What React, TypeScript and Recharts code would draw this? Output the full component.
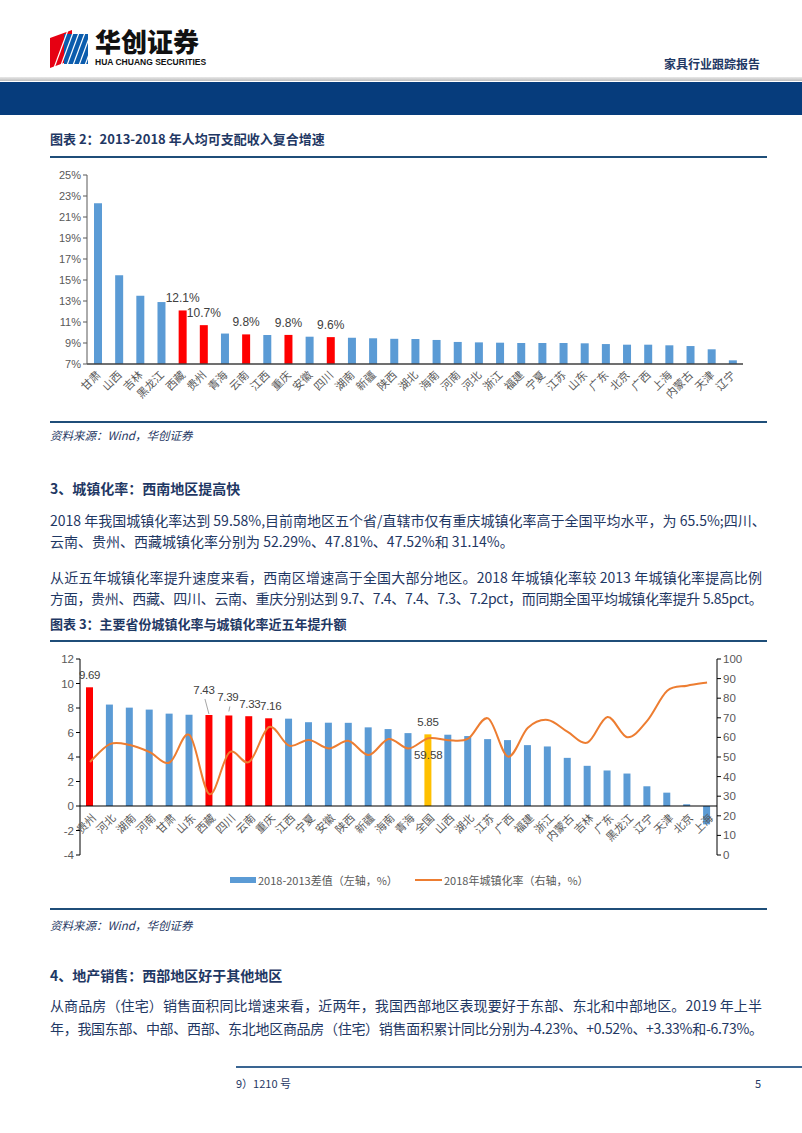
import React from "react"
import { BarChart, Bar, XAxis, YAxis, Cell, LabelList, ComposedChart, Line, ReferenceLine } from "recharts"

// 图表2：2013-2018 年人均可支配收入复合增速 (%)
const incomeProvinces = ["甘肃", "山西", "吉林", "黑龙江", "西藏", "贵州", "青海", "云南", "江西", "重庆", "安徽", "四川", "湖南", "新疆", "陕西", "湖北", "海南", "河南", "河北", "浙江", "福建", "宁夏", "江苏", "山东", "广东", "北京", "广西", "上海", "内蒙古", "天津", "辽宁"]
const incomeGrowth = [22.3, 15.45, 13.5, 12.9, 12.1, 10.7, 9.9, 9.82, 9.76, 9.77, 9.6, 9.56, 9.5, 9.45, 9.4, 9.38, 9.29, 9.1, 9.06, 9.03, 9.0, 9.0, 9.0, 8.97, 8.9, 8.84, 8.84, 8.78, 8.71, 8.4, 7.35]
const incomeHighlight = ["西藏", "贵州", "云南", "重庆", "四川"]
const incomeTicks = [7, 9, 11, 13, 15, 17, 19, 21, 23, 25]

// 图表3：城镇化率提升额（左轴）与 2018 年城镇化率（右轴）
const urbanProvinces = ["贵州", "河北", "湖南", "河南", "甘肃", "山东", "西藏", "四川", "云南", "重庆", "江西", "宁夏", "安徽", "陕西", "新疆", "海南", "青海", "全国", "山西", "湖北", "江苏", "广西", "福建", "浙江", "内蒙古", "吉林", "广东", "黑龙江", "辽宁", "天津", "北京", "上海"]
const urbanDiff = [9.69, 8.28, 8.03, 7.87, 7.54, 7.45, 7.43, 7.39, 7.33, 7.16, 7.13, 6.84, 6.8, 6.79, 6.42, 6.28, 5.95, 5.85, 5.82, 5.71, 5.46, 5.38, 4.97, 4.86, 3.93, 3.28, 2.9, 2.65, 1.61, 1.09, 0.14, -1.5]
const urbanRate = [47.5, 56.6, 56.1, 52.5, 47.2, 61.2, 31.1, 52.3, 47.5, 65.3, 55.8, 58.7, 54.4, 58.2, 51.0, 59.2, 54.4, 59.58, 58.6, 59.4, 69.7, 50.2, 64.9, 68.9, 62.8, 57.4, 70.4, 60.1, 68.6, 83.8, 86.4, 88.0]
const urbanHighlight = ["贵州", "西藏", "四川", "云南", "重庆"]
const urbanNation = "全国"
const leftTicks = [-4, -2, 0, 2, 4, 6, 8, 10, 12]
const rightTicks = [0, 10, 20, 30, 40, 50, 60, 70, 80, 90, 100]

const incomeData = incomeProvinces.map((name, i) => ({ name, value: incomeGrowth[i] }))
const urbanData = urbanProvinces.map((name, i) => ({ name, diff: urbanDiff[i], rate: urbanRate[i] }))

const NAVY = "#1f3864"
const BLUE = "#5b9bd5"
const RED = "#ff0000"
const GOLD = "#ffc000"
const ORANGE = "#ed7d31"
const GRAY = "#595959"
const NUM_FONT = "'Liberation Sans', Arial, sans-serif"
const CJK_FONT = "'Noto Sans CJK SC', sans-serif"

// Excel-like smoothed line (Catmull-Rom through points)
const smoothCurve = (context: any) => {
  let pts: number[][] = []
  return {
    areaStart() {},
    areaEnd() {},
    lineStart() {
      pts = []
    },
    point(x: number, y: number) {
      pts.push([+x, +y])
    },
    lineEnd() {
      if (!pts.length) return
      context.moveTo(pts[0][0], pts[0][1])
      for (let i = 0; i < pts.length - 1; i++) {
        const p0 = pts[i - 1] || pts[i]
        const p1 = pts[i]
        const p2 = pts[i + 1]
        const p3 = pts[i + 2] || p2
        const t = 1 / 6
        context.bezierCurveTo(
          p1[0] + (p2[0] - p0[0]) * t,
          p1[1] + (p2[1] - p0[1]) * t,
          p2[0] - (p3[0] - p1[0]) * t,
          p2[1] - (p3[1] - p1[1]) * t,
          p2[0],
          p2[1]
        )
      }
    },
  }
}

const box = (props: any) => {
  const vb = props.viewBox || {}
  return {
    x: props.x ?? vb.x,
    y: props.y ?? vb.y,
    width: props.width ?? vb.width ?? 0,
    height: props.height ?? vb.height ?? 0,
  }
}

const IncomeTick = ({ x, y, payload }: any) => (
  <g transform={`translate(${x + 1},${y + 7})`}>
    <text textAnchor="end" transform="rotate(-45)" dy="0.35em" fontSize={11} fill={GRAY} fontFamily={CJK_FONT}>
      {payload.value}
    </text>
  </g>
)

const IncomeLabel = (props: any) => {
  const { x, y, width } = box(props)
  const name = incomeProvinces[props.index]
  if (!incomeHighlight.includes(name)) return null
  return (
    <text x={x + width / 2} y={y - 8} textAnchor="middle" fontSize={12} fill="#404040" fontFamily={NUM_FONT}>
      {`${Number(props.value).toFixed(1)}%`}
    </text>
  )
}

// zero line sits 4/16 of plot height above the bottom
const URBAN_PLOT_H = 196
const ZERO_OFFSET = (URBAN_PLOT_H * 4) / 16

const UrbanTick = ({ x, y, payload }: any) => (
  <g transform={`translate(${x + 4},${y - ZERO_OFFSET + 8})`}>
    <text textAnchor="end" transform="rotate(-45)" dy="0.35em" fontSize={11} fill={GRAY} fontFamily={CJK_FONT}>
      {payload.value}
    </text>
  </g>
)

// small horizontal nudges so the crowded labels sit side by side
const urbanLabelShift: Record<string, number> = { 西藏: -5, 四川: -1, 云南: 1, 重庆: 2 }

const UrbanBarLabel = (props: any) => {
  const { x, y, width } = box(props)
  const name = urbanProvinces[props.index]
  if (!urbanHighlight.includes(name) && name !== urbanNation) return null
  const cx = x + width / 2
  const tx = cx + (urbanLabelShift[name] || 0)
  const txt = Number(props.value).toFixed(2)
  const textProps = { textAnchor: "middle" as const, fontSize: 11.5, letterSpacing: -0.3, fill: "#404040", fontFamily: NUM_FONT }
  if (name === "西藏") {
    return (
      <g>
        <line x1={cx - 4} y1={y - 16} x2={cx} y2={y - 1} stroke="#a6a6a6" strokeWidth={1} />
        <text x={tx} y={y - 21} {...textProps}>
          {txt}
        </text>
      </g>
    )
  }
  if (name === "四川") {
    return (
      <g>
        <line x1={cx + 1} y1={y - 9} x2={cx} y2={y - 4} stroke="#a6a6a6" strokeWidth={1} />
        <text x={tx} y={y - 14} {...textProps}>
          {txt}
        </text>
      </g>
    )
  }
  return (
    <text x={tx} y={y - 8} {...textProps}>
      {txt}
    </text>
  )
}

const UrbanLineLabel = (props: any) => {
  const { x, y } = box(props)
  if (urbanProvinces[props.index] !== urbanNation) return null
  return (
    <text x={x} y={y + 21} textAnchor="middle" fontSize={11.5} fill="#404040" fontFamily={NUM_FONT}>
      {Number(props.value).toFixed(2)}
    </text>
  )
}

const Txt = ({ y, x = 50, size = 14, bold = false, italic = false, color = NAVY, width, spacing = 0, children }: any) => (
  <div
    style={{
      position: "absolute",
      left: x,
      top: y - 10,
      height: 20,
      lineHeight: "20px",
      fontSize: size,
      fontWeight: bold ? 700 : 400,
      fontStyle: italic ? "italic" : "normal",
      color,
      fontFamily: CJK_FONT,
      whiteSpace: "nowrap",
      letterSpacing: spacing,
      width,
      textAlign: width ? "justify" : "left",
      textAlignLast: width ? "justify" : "auto",
    } as any}
  >
    {children}
  </div>
)

const Rule = ({ y, x1 = 50, x2 = 767, h = 2, color = "#1f4e79" }: any) => (
  <div style={{ position: "absolute", left: x1, top: y - h / 2, width: x2 - x1, height: h, background: color }} />
)

export default function App() {
  return (
    <div style={{ position: "relative", width: 802, height: 1133, background: "#fff", overflow: "hidden" }}>
      <style>{`body{margin:0}`}</style>

      {/* header */}
      <svg style={{ position: "absolute", left: 50, top: 30 }} width={40} height={38}>
        <polygon points="0,8 22,0 22,30 0,38" fill="#e60012" />
        <polygon points="14,4 38,4 38,34 14,34" fill="#0b5cad" />
        {[0, 1, 2, 3, 4, 5].map((i) => (
          <line key={i} x1={4 + i * 6} y1={38} x2={18 + i * 6} y2={0} stroke="#fff" strokeWidth={1.2} />
        ))}
      </svg>
      <div style={{ position: "absolute", left: 95, top: 26, fontSize: 26, fontWeight: 900, fontFamily: CJK_FONT, color: "#111", lineHeight: "30px" }}>
        华创证券
      </div>
      <div style={{ position: "absolute", left: 95, top: 57, fontSize: 8.5, fontWeight: 700, fontFamily: NUM_FONT, color: "#111", lineHeight: "10px" }}>
        HUA CHUANG SECURITIES
      </div>
      <Txt y={64} x={664} size={12} bold>家具行业跟踪报告</Txt>
      <div style={{ position: "absolute", left: 0, top: 77, width: 802, height: 4, background: "linear-gradient(#e8e8e8,#bdbdbd)" }} />
      <div style={{ position: "absolute", left: 0, top: 82, width: 802, height: 33, background: "#063c7c" }} />

      {/* chart 2 */}
      <Txt y={139} size={13} bold>图表 2：2013-2018 年人均可支配收入复合增速</Txt>
      <Rule y={157} />
      <div style={{ position: "absolute", left: 40, top: 160 }}>
        <BarChart width={720} height={250} data={incomeData} margin={{ top: 15, right: 17, left: 0, bottom: 0 }}>
          <XAxis
            dataKey="name"
            interval={0}
            height={46}
            tickSize={0}
            tickLine={false}
            axisLine={{ stroke: "#404040", strokeWidth: 1.5 }}
            tick={<IncomeTick />}
          />
          <YAxis
            width={47}
            domain={[7, 25]}
            ticks={incomeTicks}
            tickFormatter={(v) => `${v}%`}
            tickSize={4}
            axisLine={{ stroke: GRAY }}
            tickLine={{ stroke: GRAY }}
            tick={{ fontSize: 11, fill: GRAY, fontFamily: NUM_FONT }}
          />
          <Bar dataKey="value" barSize={8} isAnimationActive={false}>
            {incomeData.map((d) => (
              <Cell key={d.name} fill={incomeHighlight.includes(d.name) ? RED : BLUE} />
            ))}
            <LabelList dataKey="value" content={<IncomeLabel />} />
          </Bar>
        </BarChart>
      </div>
      <Rule y={422} />
      <Txt y={435} size={11.5} italic>资料来源：Wind，华创证券</Txt>

      {/* section 3 text */}
      <Txt y={488} size={14} bold>3、城镇化率：西南地区提高快</Txt>
      <Txt y={520} width={712}>2018 年我国城镇化率达到 59.58%,目前南地区五个省/直辖市仅有重庆城镇化率高于全国平均水平，为 65.5%;四川、</Txt>
      <Txt y={541}>云南、贵州、西藏城镇化率分别为 52.29%、47.81%、47.52%和 31.14%。</Txt>
      <Txt y={577} width={712}>从近五年城镇化率提升速度来看，西南区增速高于全国大部分地区。2018 年城镇化率较 2013 年城镇化率提高比例</Txt>
      <Txt y={598} width={710} spacing={-0.3}>方面，贵州、西藏、四川、云南、重庆分别达到 9.7、7.4、7.4、7.3、7.2pct，而同期全国平均城镇化率提升 5.85pct。</Txt>

      {/* chart 3 */}
      <Txt y={624} size={13} bold>图表 3：主要省份城镇化率与城镇化率近五年提升额</Txt>
      <Rule y={641} />
      <div style={{ position: "absolute", left: 40, top: 645 }}>
        <ComposedChart width={720} height={222} data={urbanData} margin={{ top: 14, right: 0, left: 0, bottom: 0 }}>
          <XAxis
            dataKey="name"
            interval={0}
            height={12}
            tickSize={0}
            tickLine={false}
            axisLine={false}
            tick={<UrbanTick />}
          />
          <YAxis
            yAxisId="left"
            width={40}
            domain={[-4, 12]}
            ticks={leftTicks}
            tickSize={4}
            axisLine={{ stroke: "#000" }}
            tickLine={{ stroke: "#000" }}
            tick={{ fontSize: 11.5, fill: GRAY, fontFamily: NUM_FONT }}
          />
          <YAxis
            yAxisId="right"
            orientation="right"
            width={43}
            domain={[0, 100]}
            ticks={rightTicks}
            tickSize={4}
            axisLine={{ stroke: "#000" }}
            tickLine={{ stroke: "#000" }}
            tick={{ fontSize: 11.5, fill: GRAY, fontFamily: NUM_FONT }}
          />
          <ReferenceLine yAxisId="left" y={0} stroke="#000" strokeWidth={1.2} />
          <Bar yAxisId="left" dataKey="diff" barSize={7} isAnimationActive={false}>
            {urbanData.map((d) => (
              <Cell key={d.name} fill={urbanHighlight.includes(d.name) ? RED : d.name === urbanNation ? GOLD : BLUE} />
            ))}
            <LabelList dataKey="diff" content={<UrbanBarLabel />} />
          </Bar>
          <Line
            yAxisId="right"
            dataKey="rate"
            type={smoothCurve as any}
            stroke={ORANGE}
            strokeWidth={2}
            dot={false}
            isAnimationActive={false}
          >
            <LabelList dataKey="rate" content={<UrbanLineLabel />} />
          </Line>
        </ComposedChart>
      </div>

      {/* legend */}
      <div style={{ position: "absolute", left: 230, top: 877, width: 26, height: 6, background: BLUE }} />
      <Txt y={880} x={258} size={11} color={GRAY}>2018-2013差值（左轴，%）</Txt>
      <div style={{ position: "absolute", left: 415, top: 879, width: 27, height: 2, background: ORANGE }} />
      <Txt y={880} x={444} size={11} color={GRAY}>2018年城镇化率（右轴，%）</Txt>

      <Rule y={909} />
      <Txt y={925} size={11.5} italic>资料来源：Wind，华创证券</Txt>

      {/* section 4 */}
      <Txt y={975} size={14} bold>4、地产销售：西部地区好于其他地区</Txt>
      <Txt y={1005} width={712}>从商品房（住宅）销售面积同比增速来看，近两年，我国西部地区表现要好于东部、东北和中部地区。2019 年上半</Txt>
      <Txt y={1028} width={708} spacing={-0.3}>年，我国东部、中部、西部、东北地区商品房（住宅）销售面积累计同比分别为-4.23%、+0.52%、+3.33%和-6.73%。</Txt>

      {/* footer */}
      <Rule y={1067} x1={236} x2={802} h={2} color="#3a6592" />
      <Txt y={1083} x={236} size={11}>9）1210 号</Txt>
      <Txt y={1083} x={755} size={11}>5</Txt>
    </div>
  )
}
